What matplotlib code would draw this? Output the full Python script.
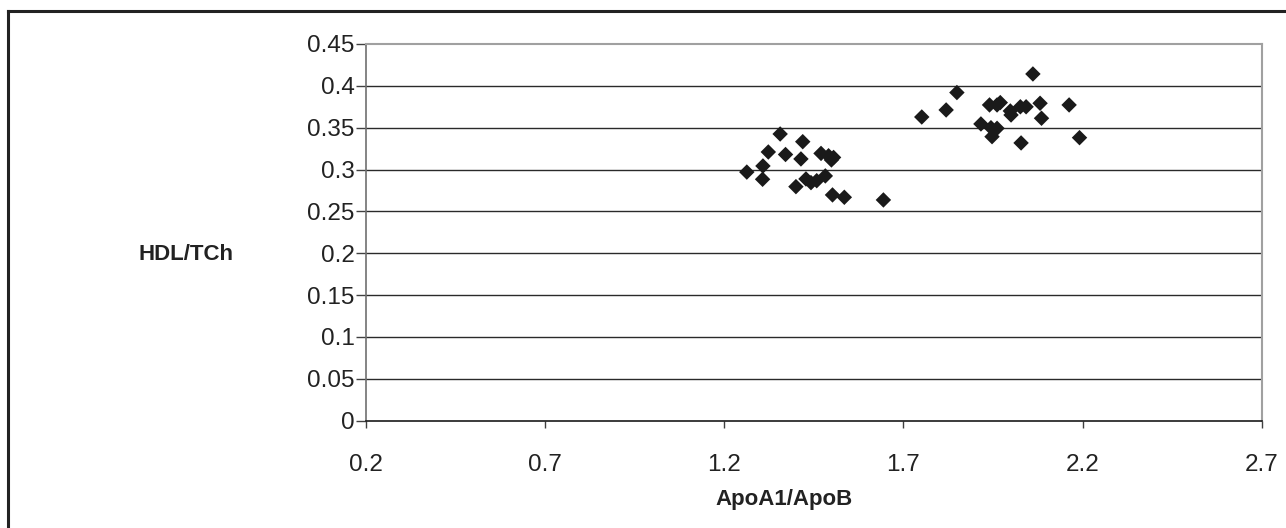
import matplotlib
matplotlib.use("Agg")
import matplotlib.pyplot as plt
from matplotlib.lines import Line2D

plt.rcParams['font.family'] = ['Liberation Sans', 'DejaVu Sans']

apo_ratio = [1.356, 1.419, 1.323, 1.371, 1.414, 1.470, 1.491, 1.505, 1.499,
             1.308, 1.263, 1.307, 1.400, 1.428, 1.442, 1.458, 1.482,
             1.502, 1.535, 1.644,
             2.061, 1.849, 1.819, 1.751, 1.940, 1.961, 1.970, 1.998, 2.000,
             2.026, 2.042, 2.081, 2.162, 2.085, 1.916, 1.944, 1.961, 1.947,
             2.028, 2.191]
hdl_tch = [0.3425, 0.3333, 0.321, 0.318, 0.3127, 0.3193, 0.3165, 0.3145, 0.3115,
           0.3043, 0.297, 0.2884, 0.2796, 0.2888, 0.2844, 0.2867, 0.2924,
           0.2697, 0.2669, 0.2637,
           0.4142, 0.392, 0.3712, 0.3628, 0.3772, 0.3772, 0.380, 0.370, 0.3652,
           0.375, 0.375, 0.3792, 0.3772, 0.3613, 0.3545, 0.350, 0.3493, 0.3393,
           0.3318, 0.3381]

x_ticks = [0.2, 0.7, 1.2, 1.7, 2.2, 2.7]
y_ticks = [0, 0.05, 0.1, 0.15, 0.2, 0.25, 0.3, 0.35, 0.4, 0.45]
x_labels = ['0.2', '0.7', '1.2', '1.7', '2.2', '2.7']
y_labels = ['0', '0.05', '0.1', '0.15', '0.2', '0.25', '0.3', '0.35', '0.4', '0.45']

fig = plt.figure(figsize=(12.86, 5.28), dpi=100)
ax = fig.add_axes([365.7/1286, 1-420.7/528, (1262-365.7)/1286, (420.7-44)/528])

ax.set_xlim(0.2, 2.7)
ax.set_ylim(0, 0.45)
ax.set_xticks(x_ticks)
ax.set_xticklabels(x_labels)
ax.set_yticks(y_ticks)
ax.set_yticklabels(y_labels)

for yv in y_ticks[1:-1]:
    ax.axhline(yv, color='#2a2a2a', lw=1.0, zorder=1)

ax.scatter(apo_ratio, hdl_tch, marker='D', s=62, color='#1a1a1a', edgecolors='none', zorder=3)

for side in ['top', 'right']:
    ax.spines[side].set_color('#a0a0a0')
    ax.spines[side].set_linewidth(1.5)
ax.spines['left'].set_color('#707070')
ax.spines['left'].set_linewidth(1.2)
ax.spines['bottom'].set_color('#1a1a1a')
ax.spines['bottom'].set_linewidth(1.2)

ax.tick_params(axis='y', direction='out', length=7, width=1, color='#404040',
               labelsize=17.5, labelcolor='#222222', pad=1)
ax.tick_params(axis='x', direction='out', length=5, width=1, color='#404040',
               labelsize=17.5, labelcolor='#222222', pad=19)

fig.text(784/1286, 1-499/528, 'ApoA1/ApoB', fontsize=16, fontweight='bold',
         ha='center', va='center', color='#222222')
fig.text(186/1286, 1-254/528, 'HDL/TCh', fontsize=16, fontweight='bold',
         ha='center', va='center', color='#222222')

# outer frame (left and top edges)
fig.add_artist(Line2D([8/1286, 8/1286], [0, 1-11/528], transform=fig.transFigure,
                      color='#222222', lw=2.2))
fig.add_artist(Line2D([8/1286, 1], [1-11/528, 1-11/528], transform=fig.transFigure,
                      color='#222222', lw=2.2))

fig.savefig('out.png', dpi=100)
